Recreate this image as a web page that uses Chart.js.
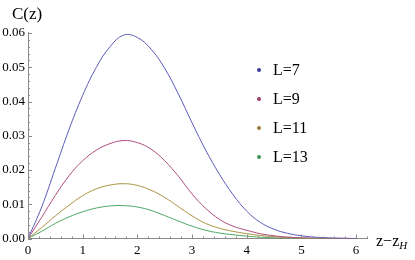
<!DOCTYPE html>
<html>
<head>
<meta charset="utf-8">
<script src="https://cdn.jsdelivr.net/npm/chart.js@4"></script>
<style>
  html, body { margin: 0; padding: 0; background: #fff; overflow: hidden; }
  #wrap { position: relative; width: 415px; height: 260px; font-family: "Liberation Serif", "Times New Roman", serif; color: #000; }
  #wrap canvas { position: absolute; left: 0; top: 0; }
  .lbl { position: absolute; white-space: nowrap; line-height: 1; }
  #ylab { left: 12px; top: 5px; font-size: 17px; }
  #xlab { left: 376px; top: 233px; font-size: 16px; }
  #xlab sub { font-style: italic; font-size: 11px; vertical-align: -3px; }
  .leg { position: absolute; left: 257px; font-size: 16px; line-height: 1; }
  .leg .dot { position: absolute; left: 0; width: 4px; height: 4px; border-radius: 2px; }
  .leg span.t { position: absolute; left: 16px; white-space: nowrap; }
</style>
</head>
<body>
<div id="wrap">
  <canvas id="chart" width="415" height="260"></canvas>
  <div class="lbl" id="ylab">C(z)</div>
  <div class="lbl" id="xlab">z&minus;z<sub>H</sub></div>
</div>
<script>
// values
const zValues = [0, 0.25, 0.5, 0.75, 1.0, 1.25, 1.5, 1.75, 2.0, 2.25, 2.5, 2.75, 3.0,
                 3.25, 3.5, 3.75, 4.0, 4.25, 4.5, 4.75, 5.0, 5.25, 5.5, 5.75, 6.0];
const cL7  = [0, 0.0092, 0.0205, 0.0318, 0.0418, 0.0500, 0.0560, 0.0594, 0.0587, 0.0553, 0.0497, 0.0422, 0.0338,
              0.0258, 0.0188, 0.0128, 0.0080, 0.0047, 0.0027, 0.0015, 0.0008, 0.0004, 0.0002, 0.0001, 0];
const cL9  = [0, 0.0062, 0.0126, 0.0183, 0.0227, 0.0258, 0.0277, 0.0286, 0.0280, 0.0261, 0.0227, 0.0182, 0.0130,
              0.0088, 0.0056, 0.0036, 0.0024, 0.0014, 0.0008, 0.0004, 0.0002, 0.0001, 0, 0, 0];
const cL11 = [0, 0.0032, 0.0066, 0.0097, 0.0125, 0.0145, 0.0156, 0.0160, 0.0155, 0.0141, 0.0120, 0.0093, 0.0066,
              0.0044, 0.0030, 0.0021, 0.0014, 0.0009, 0.0005, 0.0003, 0.0001, 0, 0, 0, 0];
const cL13 = [0, 0.0021, 0.0044, 0.0063, 0.0078, 0.0089, 0.0095, 0.0096, 0.0092, 0.0082, 0.0067, 0.0051, 0.0036,
              0.0024, 0.0016, 0.0011, 0.0007, 0.0004, 0.0002, 0.0001, 0.0001, 0, 0, 0, 0];

const seriesLabels = ['L=7', 'L=9', 'L=11', 'L=13'];
const seriesValues = [cL7, cL9, cL11, cL13];
const lineColors = ['#5c5cbb', '#b04c80', '#ab9240', '#4ca862'];
const dotColors = ['#3d3d99', '#993d6b', '#997f3d', '#3d9954'];

const xTickLabels = [0, 1, 2, 3, 4, 5, 6];
const yTickLabels = [0, 0.01, 0.02, 0.03, 0.04, 0.05, 0.06];

const axisGrey = '#8a8a8a';
const serif = "'Liberation Serif', 'Times New Roman', serif";

// Mathematica-style inward ticks with minor marks
const inwardTicks = {
  id: 'inwardTicks',
  afterDraw(chart) {
    const { ctx, chartArea, scales } = chart;
    ctx.save();
    ctx.strokeStyle = axisGrey;
    ctx.lineWidth = 1;
    ctx.beginPath();
    for (let i = 0; i <= 31; i++) {
      const v = i * 0.2;
      const px = Math.round(scales.x.getPixelForValue(v)) + 0.5;
      const len = (i % 5 === 0) ? 4 : 2;
      ctx.moveTo(px, chartArea.bottom);
      ctx.lineTo(px, chartArea.bottom - len);
    }
    for (let i = 0; i <= 30; i++) {
      const v = i * 0.002;
      const py = Math.round(scales.y.getPixelForValue(v)) + 0.5;
      const len = (i % 5 === 0) ? 4 : 2;
      ctx.moveTo(chartArea.left, py);
      ctx.lineTo(chartArea.left + len, py);
    }
    ctx.stroke();
    ctx.restore();
  }
};

const datasets = seriesLabels.map((label, i) => ({
  label: label,
  data: zValues.map((z, j) => ({ x: z, y: seriesValues[i][j] })),
  borderColor: lineColors[i],
  borderWidth: 1,
  pointRadius: 0,
  fill: false,
  tension: 0.4
}));

new Chart(document.getElementById('chart'), {
  type: 'line',
  data: { datasets: datasets },
  options: {
    responsive: false,
    animation: false,
    events: [],
    layout: { padding: { top: 32, right: 48, left: 0, bottom: 0 } },
    plugins: { legend: { display: false }, tooltip: { enabled: false } },
    scales: {
      x: {
        type: 'linear',
        min: 0,
        max: 6.2,
        afterBuildTicks: (scale) => { scale.ticks = xTickLabels.map(v => ({ value: v })); },
        afterFit: (scale) => { scale.height = 21.5; },
        grid: { display: true, drawOnChartArea: false, drawTicks: false },
        border: { display: true, color: axisGrey, width: 1 },
        ticks: {
          color: '#000',
          padding: 4,
          maxRotation: 0,
          font: { family: serif, size: 13 },
          callback: (v) => String(v)
        }
      },
      y: {
        type: 'linear',
        min: 0,
        max: 0.0603,
        afterBuildTicks: (scale) => { scale.ticks = yTickLabels.map(v => ({ value: v })); },
        afterFit: (scale) => { scale.width = 28; },
        grid: { display: true, drawOnChartArea: false, drawTicks: false },
        border: { display: true, color: axisGrey, width: 1 },
        ticks: {
          color: '#000',
          padding: 3,
          font: { family: serif, size: 13 },
          callback: (v) => Number(v).toFixed(2)
        }
      }
    }
  },
  plugins: [inwardTicks]
});

// legend on the right, built from the series
const wrap = document.getElementById('wrap');
const legendTops = [62, 91, 120, 149];
seriesLabels.forEach((label, i) => {
  const item = document.createElement('div');
  item.className = 'leg';
  item.style.top = legendTops[i] + 'px';
  const dot = document.createElement('div');
  dot.className = 'dot';
  dot.style.background = dotColors[i];
  dot.style.top = '6px';
  const t = document.createElement('span');
  t.className = 't';
  t.textContent = label;
  item.appendChild(dot);
  item.appendChild(t);
  wrap.appendChild(item);
});
</script>
</body>
</html>
